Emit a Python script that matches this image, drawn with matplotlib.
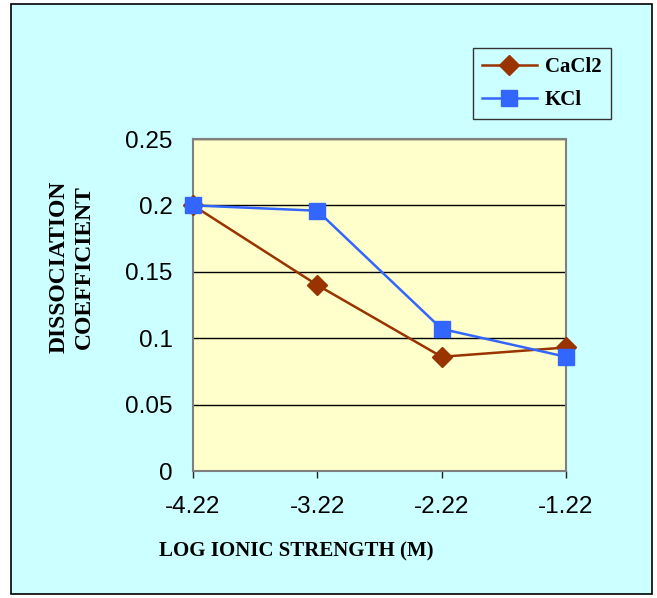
import matplotlib.pyplot as plt
from matplotlib.patches import Rectangle

# data
ionic_strength = ['-4.22', '-3.22', '-2.22', '-1.22']
cacl2 = [0.200, 0.140, 0.086, 0.093]
kcl = [0.200, 0.196, 0.107, 0.086]

bg = '#CCFFFF'
plot_bg = '#FFFFCC'

fig = plt.figure(figsize=(6.57, 5.98), dpi=100)
fig.patch.set_facecolor('white')
# outer chart frame
fig.patches.append(Rectangle((11 / 657, 4 / 598), 641 / 657, 590 / 598,
                             transform=fig.transFigure, facecolor=bg,
                             edgecolor='black', linewidth=1.2, zorder=-10))

ax = fig.add_axes([193 / 657, 127 / 598, 373 / 657, 332 / 598])
ax.set_facecolor(plot_bg)

x = range(len(ionic_strength))
ax.plot(x, cacl2, color='#993300', marker='D', markersize=10, linewidth=1.8,
        label='CaCl2', zorder=3, clip_on=False)
ax.plot(x, kcl, color='#3366FF', marker='s', markersize=11, linewidth=1.8,
        label='KCl', zorder=4, clip_on=False)

ax.set_xlim(0, 3)
ax.set_ylim(0, 0.25)
ax.set_yticks([0, 0.05, 0.1, 0.15, 0.2, 0.25])
ax.set_yticklabels(['0', '0.05', '0.1', '0.15', '0.2', '0.25'])
ax.set_xticks(list(x))
ax.set_xticklabels(ionic_strength)
ax.yaxis.grid(True, color='black', linewidth=1.0)
ax.set_axisbelow(True)
for s in ax.spines.values():
    s.set_color('#808080')
    s.set_linewidth(1.5)

ax.tick_params(axis='y', length=0, pad=14.5, labelsize=17.5, labelfontfamily='Liberation Sans')
ax.tick_params(axis='x', length=5, width=1, color='#222222', pad=13,
               labelsize=17.5, labelfontfamily='Liberation Sans')

fig.text(296 / 657, 1 - 551 / 598, 'LOG IONIC STRENGTH (M)', ha='center', va='center',
         fontsize=15, fontweight='bold', family='Liberation Serif')
fig.text(71.5 / 657, 1 - 267 / 598, 'DISSOCIATION\nCOEFFICIENT', ha='center', va='center',
         rotation=90, fontsize=17, fontweight='bold', family='Liberation Serif',
         linespacing=1.25)

leg = ax.legend(loc='upper left', bbox_to_anchor=(473 / 657, 1 - 48 / 598),
                bbox_transform=fig.transFigure, frameon=True, fancybox=False,
                facecolor=bg, edgecolor='#333333', framealpha=1, borderaxespad=0,
                prop={'family': 'Liberation Serif', 'weight': 'bold', 'size': 15},
                handlelength=2.6, borderpad=0.45, labelspacing=0.6, handletextpad=0.4)
leg.get_frame().set_linewidth(1.0)

plt.savefig('out.png', dpi=100, facecolor=fig.get_facecolor())
